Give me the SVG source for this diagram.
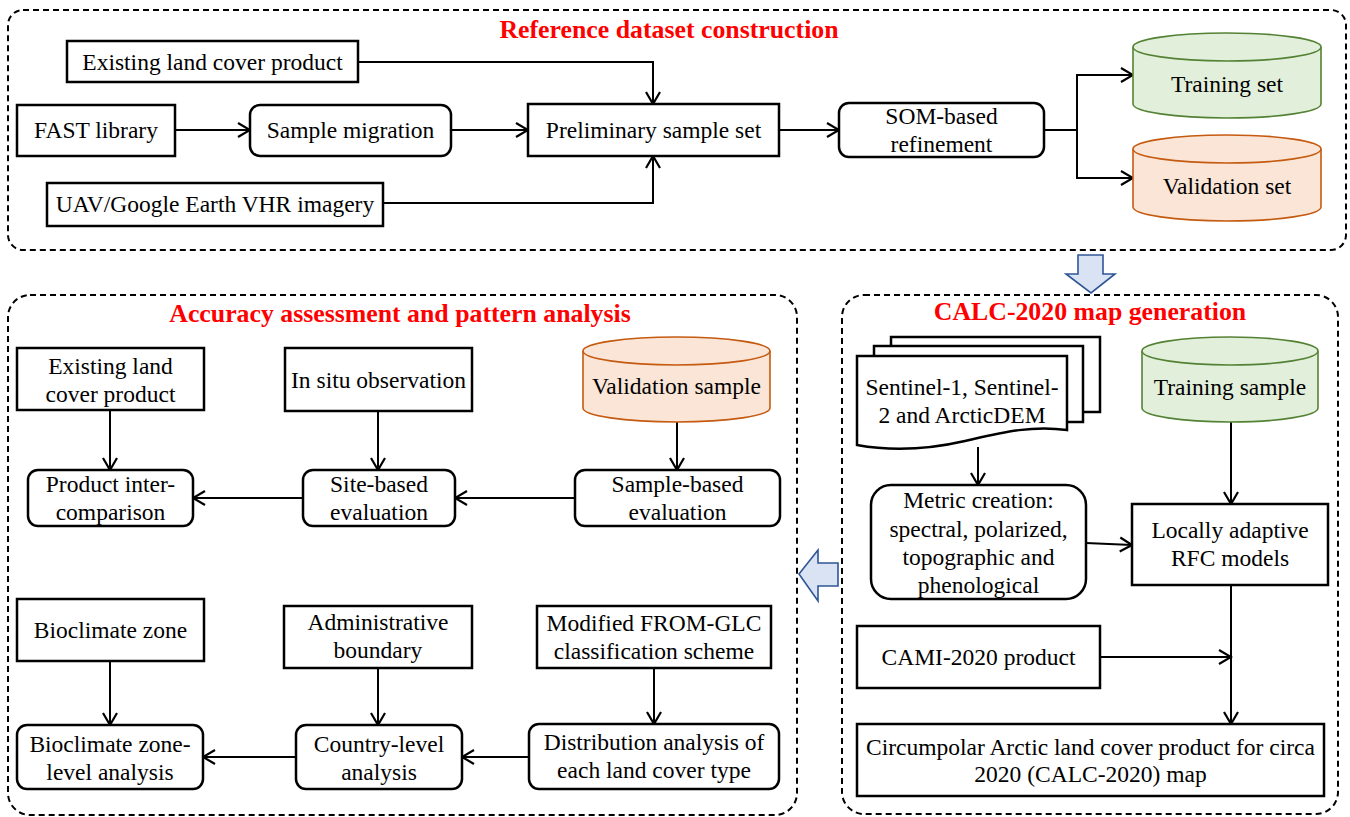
<svg xmlns="http://www.w3.org/2000/svg" width="1350" height="817" viewBox="0 0 1350 817">
<defs>
<style>
.panel{fill:none;stroke:#000;stroke-width:2;stroke-dasharray:6 4}
.box{fill:#fff;stroke:#000;stroke-width:2.5}
.t{font-family:"Liberation Serif","Times New Roman",serif;font-size:23.5px;fill:#000;text-anchor:middle}
.title{font-family:"Liberation Serif","Times New Roman",serif;font-size:25.8px;font-weight:bold;fill:#FF0000;text-anchor:middle}
.green{fill:#E2EFDA;stroke:#548235;stroke-width:1.6}
.orange{fill:#FBE5D6;stroke:#C55A11;stroke-width:1.6}
.conn{fill:none;stroke:#000;stroke-width:2;marker-end:url(#arr)}
.line{fill:none;stroke:#000;stroke-width:2}
.blk{fill:#DAE3F3;stroke:#2F5597;stroke-width:1.6}
</style>
<marker id="arr" markerUnits="userSpaceOnUse" markerWidth="16" markerHeight="18" viewBox="0 0 16 18" refX="14" refY="9" orient="auto">
<path d="M2,2 L14,9 L2,16" fill="none" stroke="#000" stroke-width="2.2"/>
</marker>
</defs>
<rect width="1350" height="817" fill="#fff"/>

<!-- panels -->
<g id="panel-reference">
<rect class="panel" x="8" y="10" width="1338" height="240" rx="15"/>
<text class="title" x="669" y="38">Reference dataset construction</text>
</g>
<g id="panel-accuracy">
<rect class="panel" x="8" y="295" width="789" height="520" rx="22"/>
<text class="title" x="400" y="322">Accuracy assessment and pattern analysis</text>
</g>
<g id="panel-calc">
<rect class="panel" x="842" y="295" width="496" height="519" rx="22"/>
<text class="title" x="1090" y="320">CALC-2020 map generation</text>
</g>

<!-- connectors -->
<g id="connectors">
<path class="conn" d="M358,62 H653 V104"/>
<path class="conn" d="M175,130 H250"/>
<path class="conn" d="M451,130 H528"/>
<path class="conn" d="M383,203 H653 V156"/>
<path class="conn" d="M779,130 H839"/>
<path class="line" d="M1044,130 H1077"/>
<path class="conn" d="M1077,130 V75 H1133"/>
<path class="conn" d="M1077,130 V178 H1133"/>

<path class="conn" d="M110,410 V470"/>
<path class="conn" d="M378,411 V470"/>
<path class="conn" d="M677,422 V470"/>
<path class="conn" d="M303,498 H193"/>
<path class="conn" d="M575,498 H455"/>
<path class="conn" d="M110,661 V725"/>
<path class="conn" d="M378,668 V725"/>
<path class="conn" d="M654,668 V724"/>
<path class="conn" d="M296,757 H203"/>
<path class="conn" d="M529,757 H462"/>

<path class="conn" d="M978,447 V485"/>
<path class="conn" d="M1231,422 V504"/>
<path class="conn" d="M1086,543 L1132,545"/>
<path class="conn" d="M1231,585 V724"/>
<path class="conn" d="M1100,657 H1231"/>

<polygon class="blk" points="1078,255 1103,255 1103,274 1115,274 1091,293 1066,274 1078,274"/>
<polygon class="blk" points="799,574 818,550 818,563 838,563 838,586 818,586 818,601"/>
</g>

<!-- Reference dataset construction nodes -->
<g id="n-existing-top"><rect class="box" x="67" y="41" width="291" height="41"/><text class="t" x="212.5" y="70">Existing land cover product</text></g>
<g id="n-fast"><rect class="box" x="17" y="105" width="158" height="51"/><text class="t" x="96" y="138">FAST library</text></g>
<g id="n-migration"><rect class="box" x="250" y="105" width="201" height="51" rx="10"/><text class="t" x="350.5" y="138">Sample migration</text></g>
<g id="n-uav"><rect class="box" x="47" y="183" width="336" height="43"/><text class="t" x="215" y="212">UAV/Google Earth VHR imagery</text></g>
<g id="n-prelim"><rect class="box" x="528" y="104" width="251" height="52"/><text class="t" x="653.5" y="138">Preliminary sample set</text></g>
<g id="n-som"><rect class="box" x="839" y="103" width="205" height="54" rx="10"/><text class="t" x="941.5" y="124">SOM-based</text><text class="t" x="941.5" y="152">refinement</text></g>
<g id="n-training-set">
<path class="green" d="M1133,47 A94,14 0 0 1 1321,47 V104 A94,14 0 0 1 1133,104 Z"/>
<path class="green" d="M1133,47 A94,14 0 0 0 1321,47" fill="none"/>
<text class="t" x="1227" y="92">Training set</text></g>
<g id="n-validation-set">
<path class="orange" d="M1133,149 A94,14 0 0 1 1321,149 V207 A94,14 0 0 1 1133,207 Z"/>
<path class="orange" d="M1133,149 A94,14 0 0 0 1321,149" fill="none"/>
<text class="t" x="1227" y="194">Validation set</text></g>

<!-- Accuracy assessment nodes -->
<g id="n-existing-2"><rect class="box" x="17" y="348" width="187" height="62"/><text class="t" x="110.5" y="374">Existing land</text><text class="t" x="110.5" y="402">cover product</text></g>
<g id="n-insitu"><rect class="box" x="285" y="348" width="187" height="63"/><text class="t" x="378.5" y="388">In situ observation</text></g>
<g id="n-validation-sample">
<path class="orange" d="M583,351 A93.5,14 0 0 1 770,351 V408 A93.5,14 0 0 1 583,408 Z"/>
<path class="orange" d="M583,351 A93.5,14 0 0 0 770,351" fill="none"/>
<text class="t" x="676.5" y="394">Validation sample</text></g>
<g id="n-product-inter"><rect class="box" x="28" y="470" width="165" height="56" rx="10"/><text class="t" x="110.5" y="492">Product inter-</text><text class="t" x="110.5" y="520">comparison</text></g>
<g id="n-site"><rect class="box" x="303" y="470" width="152" height="56" rx="10"/><text class="t" x="379" y="492">Site-based</text><text class="t" x="379" y="520">evaluation</text></g>
<g id="n-sample-based"><rect class="box" x="575" y="470" width="205" height="56" rx="10"/><text class="t" x="677.5" y="492">Sample-based</text><text class="t" x="677.5" y="520">evaluation</text></g>
<g id="n-bioclimate"><rect class="box" x="17" y="599" width="187" height="62"/><text class="t" x="110.5" y="638">Bioclimate zone</text></g>
<g id="n-admin"><rect class="box" x="284" y="606" width="188" height="62"/><text class="t" x="378" y="630">Administrative</text><text class="t" x="378" y="658">boundary</text></g>
<g id="n-fromglc"><rect class="box" x="537" y="606" width="234" height="62"/><text class="t" x="654" y="631">Modified FROM-GLC</text><text class="t" x="654" y="659">classification scheme</text></g>
<g id="n-bio-level"><rect class="box" x="17" y="725" width="186" height="64" rx="10"/><text class="t" x="110" y="752">Bioclimate zone-</text><text class="t" x="110" y="780">level analysis</text></g>
<g id="n-country"><rect class="box" x="296" y="725" width="166" height="64" rx="10"/><text class="t" x="379" y="752">Country-level</text><text class="t" x="379" y="780">analysis</text></g>
<g id="n-distribution"><rect class="box" x="529" y="724" width="250" height="65" rx="10"/><text class="t" x="654" y="750">Distribution analysis of</text><text class="t" x="654" y="778">each land cover type</text></g>

<!-- CALC-2020 nodes -->
<g id="n-sentinel">
<rect class="box" x="891" y="337" width="209" height="75"/>
<rect class="box" x="874" y="346" width="209" height="76"/>
<path class="box" d="M857,445 V356 H1067 V430 C1030,425 1000,433 965,441 C930,449 895,452 857,445 Z"/>
<text class="t" x="962" y="395">Sentinel-1, Sentinel-</text><text class="t" x="962" y="423">2 and ArcticDEM</text></g>
<g id="n-training-sample">
<path class="green" d="M1142,351 A88,14 0 0 1 1318,351 V408 A88,14 0 0 1 1142,408 Z"/>
<path class="green" d="M1142,351 A88,14 0 0 0 1318,351" fill="none"/>
<text class="t" x="1230" y="395">Training sample</text></g>
<g id="n-metric"><rect class="box" x="871" y="485" width="215" height="114" rx="20"/>
<text class="t" x="978.5" y="508">Metric creation:</text><text class="t" x="978.5" y="537">spectral, polarized,</text><text class="t" x="978.5" y="565">topographic and</text><text class="t" x="978.5" y="593">phenological</text></g>
<g id="n-rfc"><rect class="box" x="1132" y="504" width="196" height="81"/><text class="t" x="1230" y="538">Locally adaptive</text><text class="t" x="1230" y="566">RFC models</text></g>
<g id="n-cami"><rect class="box" x="857" y="626" width="243" height="62"/><text class="t" x="978.5" y="665">CAMI-2020 product</text></g>
<g id="n-calc"><rect class="box" x="857" y="724" width="467" height="72"/><text class="t" x="1090.5" y="755">Circumpolar Arctic land cover product for circa</text><text class="t" x="1090.5" y="782">2020 (CALC-2020) map</text></g>
</svg>
